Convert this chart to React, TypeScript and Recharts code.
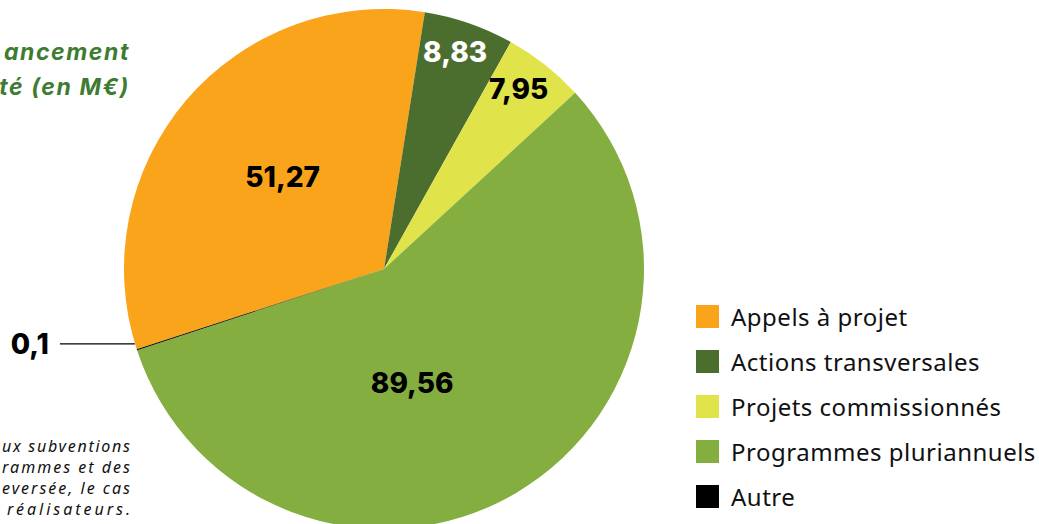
import React from "react";
import { PieChart, Pie, Cell, Legend } from "recharts";

const categories = ["Appels à projet", "Actions transversales", "Projets commissionnés", "Programmes pluriannuels", "Autre"];
const values = [51.27, 8.83, 7.95, 89.56, 0.1];
const valueLabels = ["51,27", "8,83", "7,95", "89,56", "0,1"];
const colors = ["#F9A41B", "#4B6E2E", "#E0E34A", "#84AF40", "#000000"];
const labelColors = ["#000000", "#FFFFFF", "#000000", "#000000", "#000000"];
const labelRadius = [0.527, 0.88, 0.865, 0.45, 1];
const labelAngleShift = [-1.8, 1, 1.5, -16.5, 0];
const titleLines = ["ancement", "té (en M€)"];
const noteLines = ["ux subventions", "rammes et des", "eversée, le cas", "réalisateurs."];
const noteWidths = [128, 128, 128, 123];

const data = categories.map((name, i) => ({ name, value: values[i], label: valueLabels[i] }));

const RAD = Math.PI / 180;
const numFont = "Inter, 'Open Sans', sans-serif";

const renderLabel = (props: any) => {
  const { cx, cy, midAngle, outerRadius, index } = props;
  const ang = (midAngle + labelAngleShift[index]) * RAD;
  if (index === 4) {
    const ex = cx + outerRadius * Math.cos(-ang);
    const ey = cy + outerRadius * Math.sin(-ang);
    const y = ey - 6;
    return (
      <g key="lbl4">
        <line x1={ex - 2} y1={y} x2={ex - 77} y2={y} stroke="#000" strokeWidth={1.2} />
        <text x={ex - 88} y={y} textAnchor="end" dominantBaseline="central" fontFamily={numFont} fontWeight={800} fontSize={28} fill="#000">
          {valueLabels[index]}
        </text>
      </g>
    );
  }
  const r = outerRadius * labelRadius[index];
  const x = cx + r * Math.cos(-ang);
  const y = cy + r * Math.sin(-ang);
  return (
    <text key={"lbl" + index} x={x} y={y} textAnchor="middle" dominantBaseline="central" fontFamily={numFont} fontWeight={800} fontSize={28} fill={labelColors[index]}>
      {valueLabels[index]}
    </text>
  );
};

const renderLegend = () => (
  <div style={{ fontFamily: "'Noto Sans', sans-serif", fontSize: 24, letterSpacing: 0.5, color: "#111" }}>
    {data.map((d, i) => (
      <div key={d.name} style={{ display: "flex", alignItems: "center", height: 45 }}>
        <span style={{ display: "inline-block", flex: "none", width: 23, height: 23, background: colors[i], marginRight: 12 }} />
        <span style={{ whiteSpace: "nowrap" }}>{d.name}</span>
      </div>
    ))}
  </div>
);

export default function App() {
  return (
    <div style={{ position: "fixed", left: 0, top: 0, width: 1039, height: 524, background: "#fff", overflow: "hidden" }}>
      <PieChart width={1039} height={524} margin={{ top: 0, right: 0, bottom: 0, left: 0 }}>
        <text x={130} y={60} textAnchor="end" fontFamily="Inter, sans-serif" fontStyle="italic" fontWeight={700} fontSize={23} letterSpacing={1.6} fill="#3E7B33">
          {titleLines[0]}
        </text>
        <text x={130} y={95} textAnchor="end" fontFamily="Inter, sans-serif" fontStyle="italic" fontWeight={700} fontSize={23} letterSpacing={1.6} fill="#3E7B33">
          {titleLines[1]}
        </text>
        {noteLines.map((t, i) => (
          <text
            key={t}
            x={130 - noteWidths[i]}
            y={452 + i * 21}
            textLength={noteWidths[i]}
            lengthAdjust="spacing"
            fontFamily="'Noto Sans', sans-serif"
            fontStyle="italic"
            fontSize={16}
            fill="#111"
          >
            {t}
          </text>
        ))}
        <Pie
          data={data}
          dataKey="value"
          nameKey="name"
          cx={384}
          cy={269}
          outerRadius={260}
          startAngle={-162}
          endAngle={-522}
          stroke="none"
          isAnimationActive={false}
          label={renderLabel}
          labelLine={false}
        >
          {data.map((d, i) => (
            <Cell key={d.name} fill={colors[i]} />
          ))}
        </Pie>
        <Legend
          content={renderLegend}
          layout="vertical"
          wrapperStyle={{ position: "absolute", left: 696, top: 294, width: 343 }}
        />
      </PieChart>
    </div>
  );
}
